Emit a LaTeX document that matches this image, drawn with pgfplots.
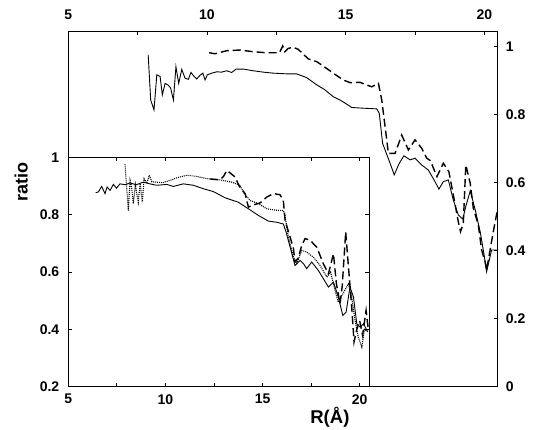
\documentclass[border=0pt]{standalone}
\usepackage{fontspec}
\setmainfont{Liberation Sans}
\usepackage{pgfplots}
\usepackage{pgfplotstable}
\pgfplotsset{compat=1.18}

% outer panel (top/right axes)
\pgfplotstableread{
x y
7.88 0.976
7.97 0.843
8.09 0.814
8.19 0.917
8.31 0.912
8.39 0.858
8.49 0.892
8.60 0.887
8.69 0.878
8.79 0.843
8.88 0.941
8.98 0.892
9.09 0.933
9.21 0.907
9.33 0.904
9.42 0.924
9.54 0.912
9.63 0.905
9.74 0.915
9.85 0.922
9.93 0.902
10.01 0.917
10.17 0.922
10.35 0.926
10.52 0.925
10.71 0.929
10.89 0.924
11.05 0.934
11.31 0.934
11.67 0.929
12.03 0.925
12.39 0.922
12.87 0.920
13.23 0.920
13.59 0.909
13.95 0.888
14.25 0.873
14.55 0.853
14.86 0.840
15.22 0.821
15.63 0.819
16.12 0.817
16.21 0.804
16.33 0.716
16.42 0.696
16.60 0.657
16.75 0.623
16.93 0.657
17.10 0.679
17.32 0.667
17.50 0.672
17.74 0.652
17.98 0.637
18.22 0.603
18.36 0.581
18.52 0.603
18.70 0.608
18.88 0.549
19.06 0.505
19.22 0.493
19.33 0.530
19.49 0.576
19.67 0.520
19.86 0.451
19.98 0.392
20.08 0.338
20.26 0.402
20.47 0.402
}\outsolid

\pgfplotstableread{
x y
10.08 0.982
10.29 0.979
10.71 0.988
11.19 0.990
11.67 0.985
12.15 0.982
12.61 0.982
12.73 1.002
12.81 0.985
12.93 0.995
13.11 0.998
13.29 0.992
13.47 0.978
13.65 0.964
13.95 0.956
14.19 0.943
14.55 0.922
14.91 0.902
15.16 0.894
15.52 0.895
15.76 0.887
15.94 0.882
16.18 0.892
16.30 0.843
16.45 0.745
16.54 0.686
16.78 0.686
17.02 0.740
17.26 0.696
17.50 0.726
17.74 0.701
17.92 0.672
18.05 0.665
18.29 0.618
18.52 0.657
18.72 0.632
18.88 0.564
19.06 0.485
19.14 0.456
19.24 0.480
19.33 0.652
19.49 0.598
19.60 0.525
19.78 0.476
19.90 0.402
20.02 0.370
20.08 0.343
20.31 0.451
20.47 0.520
}\outdash

% inset panel
\pgfplotstableread{
x y
6.41 0.877
6.55 0.880
6.72 0.899
6.89 0.874
7.00 0.897
7.15 0.885
7.32 0.906
7.48 0.893
7.66 0.908
7.92 0.905
8.18 0.911
8.50 0.905
8.86 0.914
9.20 0.908
9.55 0.903
10.07 0.906
10.41 0.899
10.92 0.908
11.44 0.903
11.95 0.891
12.47 0.881
13.08 0.859
13.75 0.844
14.27 0.821
14.78 0.798
15.30 0.778
15.73 0.774
16.07 0.768
16.21 0.740
16.42 0.687
16.67 0.623
16.93 0.641
17.10 0.630
17.27 0.612
17.53 0.635
17.87 0.606
18.13 0.577
18.39 0.548
18.65 0.565
18.90 0.513
19.13 0.449
19.30 0.460
19.50 0.548
19.68 0.513
19.85 0.420
20.02 0.408
20.20 0.420
20.37 0.397
20.48 0.400
}\insolid

\pgfplotstableread{
x y
7.92 0.976
8.00 0.900
8.09 0.815
8.18 0.920
8.25 0.900
8.35 0.839
8.45 0.905
8.60 0.844
8.70 0.910
8.81 0.844
8.90 0.926
9.04 0.910
9.17 0.938
9.30 0.915
9.55 0.914
9.85 0.912
10.24 0.920
10.58 0.929
11.10 0.938
11.61 0.934
12.13 0.926
12.81 0.922
13.41 0.914
13.84 0.903
14.01 0.879
14.36 0.850
14.78 0.839
15.22 0.821
15.70 0.816
16.07 0.815
16.15 0.800
16.33 0.722
16.59 0.652
16.76 0.630
17.02 0.676
17.27 0.670
17.62 0.652
17.96 0.623
18.31 0.583
18.50 0.600
18.73 0.536
18.90 0.495
19.10 0.520
19.42 0.559
19.55 0.530
19.76 0.432
19.93 0.373
20.11 0.338
20.25 0.400
20.45 0.390
}\indot

\pgfplotstableread{
x y
12.30 0.925
12.81 0.922
13.00 0.935
13.16 0.955
13.35 0.945
13.58 0.932
13.80 0.900
14.10 0.874
14.27 0.827
14.55 0.835
14.86 0.841
15.22 0.862
15.56 0.874
15.90 0.870
16.07 0.850
16.16 0.780
16.42 0.722
16.59 0.682
16.67 0.635
16.85 0.650
17.00 0.690
17.19 0.717
17.45 0.711
17.79 0.687
18.13 0.629
18.39 0.594
18.65 0.664
18.80 0.560
18.99 0.490
19.10 0.550
19.28 0.740
19.42 0.620
19.59 0.478
19.71 0.356
19.85 0.400
20.00 0.430
20.15 0.380
20.33 0.466
20.45 0.397
}\indash

\pgfplotsset{
  every axis/.append style={
    scale only axis,
    /pgf/number format/assume math mode=true,
    tick label style={font=\fontsize{14}{14}\selectfont\bfseries},
    axis line style={line width=0.8pt},
    major tick length=4pt, minor tick length=4pt,
    tick style={line width=0.8pt, black},
  },
  solidline/.style={black, line width=0.9pt},
  dashline/.style={black, line width=1.4pt, dash pattern=on 8pt off 4pt},
  dotline/.style={black, line width=1.1pt, dash pattern=on 1pt off 1pt},
}

\begin{document}
\begin{tikzpicture}
\path[use as bounding box] (0,0) rectangle (540pt,430pt);

\begin{axis}[
  at={(68.3pt,43.3pt)}, anchor=south west,
  width=429.4pt, height=355.7pt,
  xmin=5, xmax=20.48, ymin=0, ymax=1.046,
  xtick={5,10,15,20}, minor xtick={7.5,12.5,17.5},
  ytick={0,0.2,0.4,0.6,0.8,1},
  xtick pos=right, ytick pos=right,
  xticklabel pos=right, yticklabel pos=right,
  xticklabel style={yshift=8pt},
  yticklabel style={xshift=4.6pt},
]
\addplot[solidline] table {\outsolid};
\addplot[dashline] table {\outdash};
\end{axis}

\begin{axis}[
  at={(68.3pt,43.3pt)}, anchor=south west,
  width=300.7pt, height=229.2pt,
  xmin=5, xmax=20.48, ymin=0.2, ymax=1,
  xtick={5,10,15,20}, minor xtick={7.5,12.5,17.5},
  ytick={0.2,0.4,0.6,0.8,1},
  axis background/.style={fill=white},
  xticklabel style={yshift=-4pt},
  yticklabel style={xshift=-5.5pt},
  xlabel={R(Å)},
  xlabel style={at={(axis description cs:0.87,0)}, anchor=center, yshift=-31pt,
    font=\fontsize{18.5}{18.5}\selectfont\bfseries},
  ylabel={ratio},
  ylabel style={at={(axis description cs:-0.157,0.891)}, anchor=center,
    font=\fontsize{18}{18}\selectfont\bfseries},
]
\addplot[solidline] table {\insolid};
\addplot[dotline] table {\indot};
\addplot[dashline] table {\indash};
\end{axis}
\end{tikzpicture}
\end{document}
